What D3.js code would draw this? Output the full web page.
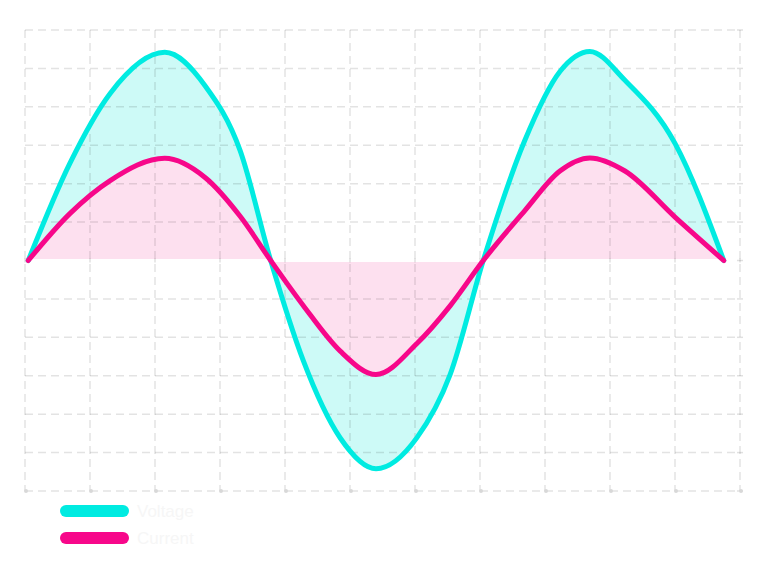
<!DOCTYPE html>
<html>
<head>
<meta charset="utf-8">
<style>
  body { margin: 0; background: #fff; }
  svg { display: block; font-family: "Liberation Sans", Arial, sans-serif; }
</style>
</head>
<body>
<svg width="768" height="576"></svg>
<script src="https://d3js.org/d3.v7.min.js"></script>
<script>
// sample positions along the time axis (grid units)
var t = [0.05, 0.69, 1.31, 2.15, 2.77, 3.31, 3.78, 4.28, 4.85, 5.40,
         6.03, 6.54, 7.05, 7.69, 8.23, 8.69, 9.23, 10.00, 10.75];

var voltage = [0, 2.53, 4.35, 5.42, 4.55, 2.86, 0, -2.60, -4.62, -5.42,
               -4.61, -2.97, 0, 3.13, 4.92, 5.44, 4.69, 3.05, 0];

var current = [0, 1.22, 2.08, 2.66, 2.16, 1.15, 0, -1.17, -2.36, -2.97,
               -2.16, -1.18, 0, 1.30, 2.33, 2.67, 2.33, 1.13, 0];

var xTicks = d3.range(0, 12);
var yTicks = d3.range(-6, 7);
var seriesNames = ["Voltage", "Current"];

var svg = d3.select("svg");

var x = d3.scaleLinear().domain([0, 11]).range([25, 740]);
var y = d3.scaleLinear().domain([-6, 6]).range([491, 30]);

var series = [
  { name: seriesNames[0], values: voltage, line: "#00ebe1", fill: "#cdfaf7" },
  { name: seriesNames[1], values: current, line: "#f7078a", fill: "#fde0ef" }
];

var curve = d3.curveMonotoneX;

var area = d3.area()
    .x(function(d, i) { return x(t[i]); })
    .y0(y(0))
    .y1(function(d) { return y(d); })
    .curve(curve);

var line = d3.line()
    .x(function(d, i) { return x(t[i]); })
    .y(function(d) { return y(d); })
    .curve(curve);

// fills
svg.append("g").selectAll("path")
  .data(series)
  .enter().append("path")
    .attr("fill", function(d) { return d.fill; })
    .attr("d", function(d) { return area(d.values); });

// dashed grid, on top of the fills
var grid = svg.append("g")
    .attr("stroke", "rgba(0,0,0,0.11)")
    .attr("stroke-width", 1.5)
    .attr("stroke-dasharray", "8,5");

grid.selectAll(".v")
  .data(xTicks)
  .enter().append("line")
    .attr("x1", x).attr("x2", x)
    .attr("y1", y(6)).attr("y2", y(-6));

grid.selectAll(".h")
  .data(yTicks)
  .enter().append("line")
    .attr("y1", y).attr("y2", y)
    .attr("x1", x(0)).attr("x2", x(11));

// white zero line
svg.append("line")
    .attr("x1", x(0)).attr("x2", x(11))
    .attr("y1", y(0)).attr("y2", y(0))
    .attr("stroke", "#fff")
    .attr("stroke-width", 3);

// small tick marks on the zero line and the right edge
svg.append("g").selectAll("line")
  .data(xTicks)
  .enter().append("line")
    .attr("x1", x).attr("x2", x)
    .attr("y1", y(0) - 2).attr("y2", y(0) + 2)
    .attr("stroke", "rgba(0,0,0,0.12)")
    .attr("stroke-width", 1.5);

svg.append("g").selectAll("line")
  .data(yTicks)
  .enter().append("line")
    .attr("x1", x(11) - 3).attr("x2", x(11) + 3)
    .attr("y1", y).attr("y2", y)
    .attr("stroke", "rgba(0,0,0,0.12)")
    .attr("stroke-width", 1.5);

// dots along the bottom
svg.append("g").selectAll("circle")
  .data(xTicks)
  .enter().append("circle")
    .attr("cx", function(d) { return x(d) + 1; })
    .attr("cy", y(-6))
    .attr("r", 2)
    .attr("fill", "#d8d8d8");

// lines
svg.append("g").selectAll("path")
  .data(series)
  .enter().append("path")
    .attr("fill", "none")
    .attr("stroke", function(d) { return d.line; })
    .attr("stroke-width", 5)
    .attr("stroke-linejoin", "round")
    .attr("stroke-linecap", "round")
    .attr("d", function(d) { return line(d.values); });

// legend
var legend = svg.append("g").selectAll("g")
  .data(series)
  .enter().append("g")
    .attr("transform", function(d, i) { return "translate(0," + (511 + i * 27) + ")"; });

legend.append("line")
    .attr("x1", 66).attr("x2", 123)
    .attr("stroke", function(d) { return d.line; })
    .attr("stroke-width", 12)
    .attr("stroke-linecap", "round");

legend.append("text")
    .attr("x", 137)
    .attr("dy", "0.35em")
    .attr("font-size", 17)
    .attr("fill", "#f6f6f6")
    .text(function(d) { return d.name; });
</script>
</body>
</html>
